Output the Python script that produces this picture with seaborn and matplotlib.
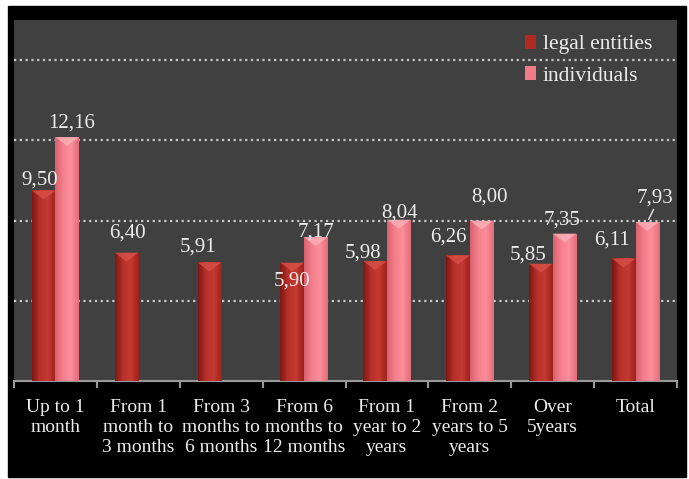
import numpy as np
import pandas as pd
import matplotlib.pyplot as plt
import seaborn as sns
from matplotlib.patches import Rectangle, Polygon
from matplotlib.colors import LinearSegmentedColormap, to_rgb

# Data
categories = [
    "Up to 1\nmonth",
    "From 1\nmonth to\n3 months",
    "From 3\nmonths to\n6 months",
    "From 6\nmonths to\n12 months",
    "From 1\nyear to 2\nyears",
    "From 2\nyears to 5\nyears",
    "Over\n5years",
    "Total",
]
legal = [9.50, 6.40, 5.91, 5.90, 5.98, 6.26, 5.85, 6.11]
individuals = [12.16, np.nan, np.nan, 7.17, 8.04, 8.00, 7.35, 7.93]
series = ["legal entities", "individuals"]

df = pd.DataFrame({"category": categories, series[0]: legal, series[1]: individuals})
df = df.melt(id_vars="category", var_name="type", value_name="rate")

# label offsets in pixels (dx, dy) from the top centre of each bar
label_offsets = {
    0: [(-4, 10), (1, 20), (-11, 15), (0, -18), (-12, 8), (-10, 18), (-13, 9), (-12, 18)],
    1: [(4, 14), None, None, (0, 5), (1, 7), (8, 24), (-2, 14), (8, 24)],
}

sns.set_theme(style="dark")
plt.rcParams["font.family"] = ["Liberation Serif", "DejaVu Serif"]

txt = "#ececec"
red, pink = "#b02a22", "#f07a87"

fig = plt.figure(figsize=(6.89, 4.79), dpi=100, facecolor="white")
fig.patches.append(Rectangle((8 / 689, 2 / 479), 678 / 689, 471 / 479,
                             transform=fig.transFigure, color="black", zorder=-10))
ax = fig.add_axes([14 / 689, 1 - 381 / 479, 663 / 689, 361 / 479])
ax.set_facecolor("#404040")

sns.barplot(data=df, x="category", y="rate", hue="type", hue_order=series,
            palette=[red, pink], width=0.57, saturation=1, linewidth=0,
            ax=ax, zorder=3)

cmaps = {
    red: LinearSegmentedColormap.from_list("r", ["#7e1812", "#b8302a", "#c43a32", "#9c221b"]),
    pink: LinearSegmentedColormap.from_list("p", ["#d9606e", "#f4808c", "#fa8e99", "#e46d7a"]),
}
tops = {red: "#d85048", pink: "#fbb0b8"}
grad = np.linspace(0, 1, 64).reshape(1, -1)

for p in list(ax.patches):
    h = p.get_height()
    if not np.isfinite(h) or h <= 0:
        continue
    fc = p.get_facecolor()
    key = red if np.allclose(fc[:3], to_rgb(red), atol=0.02) else pink
    x0, w = p.get_x(), p.get_width()
    im = ax.imshow(grad, extent=[x0, x0 + w, 0, h], aspect="auto",
                   cmap=cmaps[key], zorder=3.5)
    im.set_clip_path(p)
    ax.add_patch(Polygon([(x0, h), (x0 + w, h), (x0 + w / 2, h - 0.45)],
                         closed=True, color=tops[key], alpha=0.8, zorder=4, lw=0))
    si = 0 if key == red else 1
    ci = int(round(x0 + w / 2))
    off = label_offsets[si][ci]
    ax.annotate(f"{h:.2f}".replace(".", ","), (x0 + w / 2, h),
                xytext=off, textcoords="offset pixels", ha="center", va="center",
                color=txt, fontsize=15, zorder=5)
    if si == 1 and ci == 7:
        ax.annotate("", (x0 + w / 2, h), xytext=(x0 + w / 2 + 0.09, h + 0.75),
                    arrowprops=dict(arrowstyle="-", color=txt, lw=1), zorder=5)

ax.set_xlim(-0.5, 7.5)
ax.set_ylim(0, 18)

ax.set_yticks([4, 8, 12, 16])
ax.set_yticklabels([])
ax.tick_params(axis="y", length=0)
ax.grid(axis="y", color="#c8c8c8", linestyle=(0, (1, 1.6)), linewidth=1.6, zorder=1)
ax.grid(axis="x", visible=False)
ax.set_axisbelow(True)

ax.set_xticks(range(len(categories)))
ax.set_xticklabels(categories, color=txt, fontsize=14, linespacing=1.22, va="top")
ax.set_xticks(np.arange(-0.5, 8, 1), minor=True)
ax.tick_params(axis="x", which="major", length=0, pad=13)
ax.tick_params(axis="x", which="minor", length=5, width=1.5, color="#9a9a9a",
               direction="out", bottom=True)
ax.set_xlabel("")
ax.set_ylabel("")

for s in ["top", "left", "right"]:
    ax.spines[s].set_visible(False)
ax.spines["bottom"].set_color("#9a9a9a")
ax.spines["bottom"].set_linewidth(1.5)

leg = ax.legend(loc="upper right", frameon=False, fontsize=15.5, labelcolor=txt,
                handlelength=0.5, handleheight=0.6, handletextpad=0.3,
                labelspacing=0.55, borderaxespad=0.3, bbox_to_anchor=(0.985, 1.0))
for h_ in leg.legend_handles:
    h_.set_edgecolor("none")

fig.savefig("out.png", dpi=100, facecolor=fig.get_facecolor())
